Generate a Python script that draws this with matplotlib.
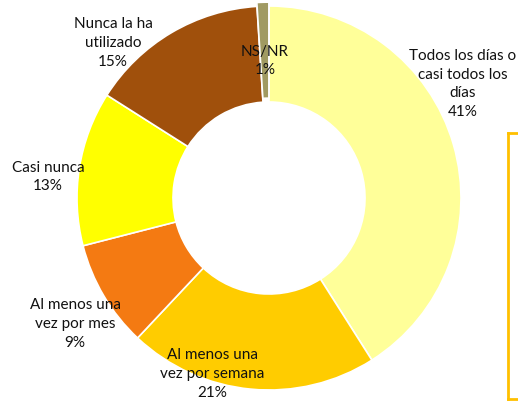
import matplotlib.pyplot as plt
from matplotlib.lines import Line2D

labels = [
    "Todos los días o\ncasi todos los\ndías",
    "Al menos una\nvez por semana",
    "Al menos una\nvez por mes",
    "Casi nunca",
    "Nunca la ha\nutilizado",
    "NS/NR",
]
values = [41, 21, 9, 13, 15, 1]
colors = ["#FFFF99", "#FFCC00", "#F47A12", "#FFFF00", "#A0500C", "#A09A62"]

# label centres in pixels (x from left, y from top)
label_px = [(463, 84), (212, 374), (75, 324), (48, 177), (113, 43), (265, 61)]

W, H = 518, 416
cx, cy, r = 269, 198, 192

fig = plt.figure(figsize=(W / 100, H / 100), dpi=100)
ax = fig.add_axes([0, 0, 1, 1])

ax.pie(values, colors=colors, startangle=90, counterclock=False, radius=1,
       explode=[0, 0, 0, 0, 0, 0.02],
       wedgeprops=dict(width=0.5, edgecolor="white", linewidth=1.2))
ax.set_xlim(-cx / r, (W - cx) / r)
ax.set_ylim(-(H - cy) / r, cy / r)
ax.set_aspect("equal")
ax.axis("off")

for lab, v, (px, py) in zip(labels, values, label_px):
    ax.text((px - cx) / r, (cy - py) / r, f"{lab}\n{v}%", ha="center", va="center",
            fontsize=11, family="Lato", linespacing=1.45, color="#111111")

# bracket on the right
bx = 508 / W
y0, y1 = 1 - 133 / H, 1 - 399 / H
for xs, ys in [([bx, bx], [y0, y1]), ([bx, 1], [y0, y0]), ([bx, 1], [y1, y1])]:
    fig.add_artist(Line2D(xs, ys, color="#FFC000", linewidth=2, transform=fig.transFigure))

fig.savefig("out.png", dpi=100)
